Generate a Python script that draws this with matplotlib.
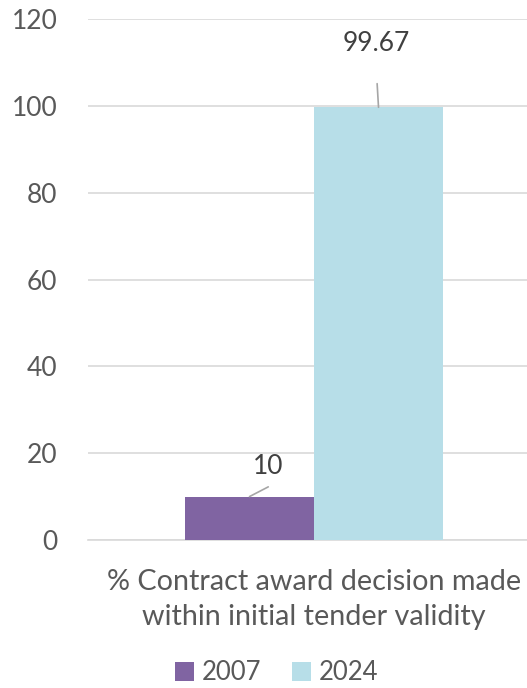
import matplotlib

matplotlib.use("Agg")
import matplotlib.pyplot as plt
from matplotlib.patches import Patch

# data
category = "% Contract award decision made\nwithin initial tender validity"
years = ["2007", "2024"]
values = [10, 99.67]
labels = ["10", "99.67"]
colors = ["#8064A2", "#B7DEE8"]

text_color = "#595959"
plt.rcParams["font.family"] = ["Lato", "DejaVu Sans"]

fig = plt.figure(figsize=(5.27, 6.88), dpi=100)
ax = fig.add_axes([88 / 527, 1 - 540 / 688, 1 - 88 / 527, (540 - 19) / 688])

xs = [-0.5, 0.5]
ax.bar(xs, values, width=1.0, color=colors, zorder=3)
ax.set_xlim(-1.752, 1.651)
ax.set_ylim(0, 120)
ax.set_yticks(range(0, 121, 20))
ax.yaxis.grid(True, color="#D9D9D9", linewidth=1.2, zorder=0)
ax.tick_params(axis="y", length=0, pad=22, labelsize=19, labelcolor=text_color)
ax.set_xticks([0])
ax.set_xticklabels([category], fontsize=20.7, color=text_color, linespacing=1.42)
ax.tick_params(axis="x", length=0, pad=21)
for side in ["top", "right", "left"]:
    ax.spines[side].set_visible(False)
ax.spines["bottom"].set_color("#D9D9D9")
ax.spines["bottom"].set_linewidth(1.2)

# data labels with leader lines (offsets in points)
line_ends = [(13.5, 7), (-1, 17)]
text_offsets = [(13.5, 21.5), (-1.8, 46)]
for x, v, lab, le, to in zip(xs, values, labels, line_ends, text_offsets):
    ax.annotate("", xy=(x, v), xytext=le, textcoords="offset points",
                arrowprops=dict(arrowstyle="-", color="#A6A6A6", lw=1.2,
                                shrinkA=0, shrinkB=0))
    ax.annotate(lab, xy=(x, v), xytext=to, textcoords="offset points",
                ha="center", va="center", fontsize=19, color="#404040")

handles = [Patch(facecolor=c, label=y) for c, y in zip(colors, years)]
fig.legend(handles=handles, loc="center", bbox_to_anchor=(0.525, 1 - 673 / 688),
           ncol=2, frameon=False, fontsize=18.5, labelcolor=text_color,
           handlelength=0.75, handleheight=0.75, handletextpad=0.3,
           columnspacing=1.2)

fig.savefig("out.png", dpi=100)
